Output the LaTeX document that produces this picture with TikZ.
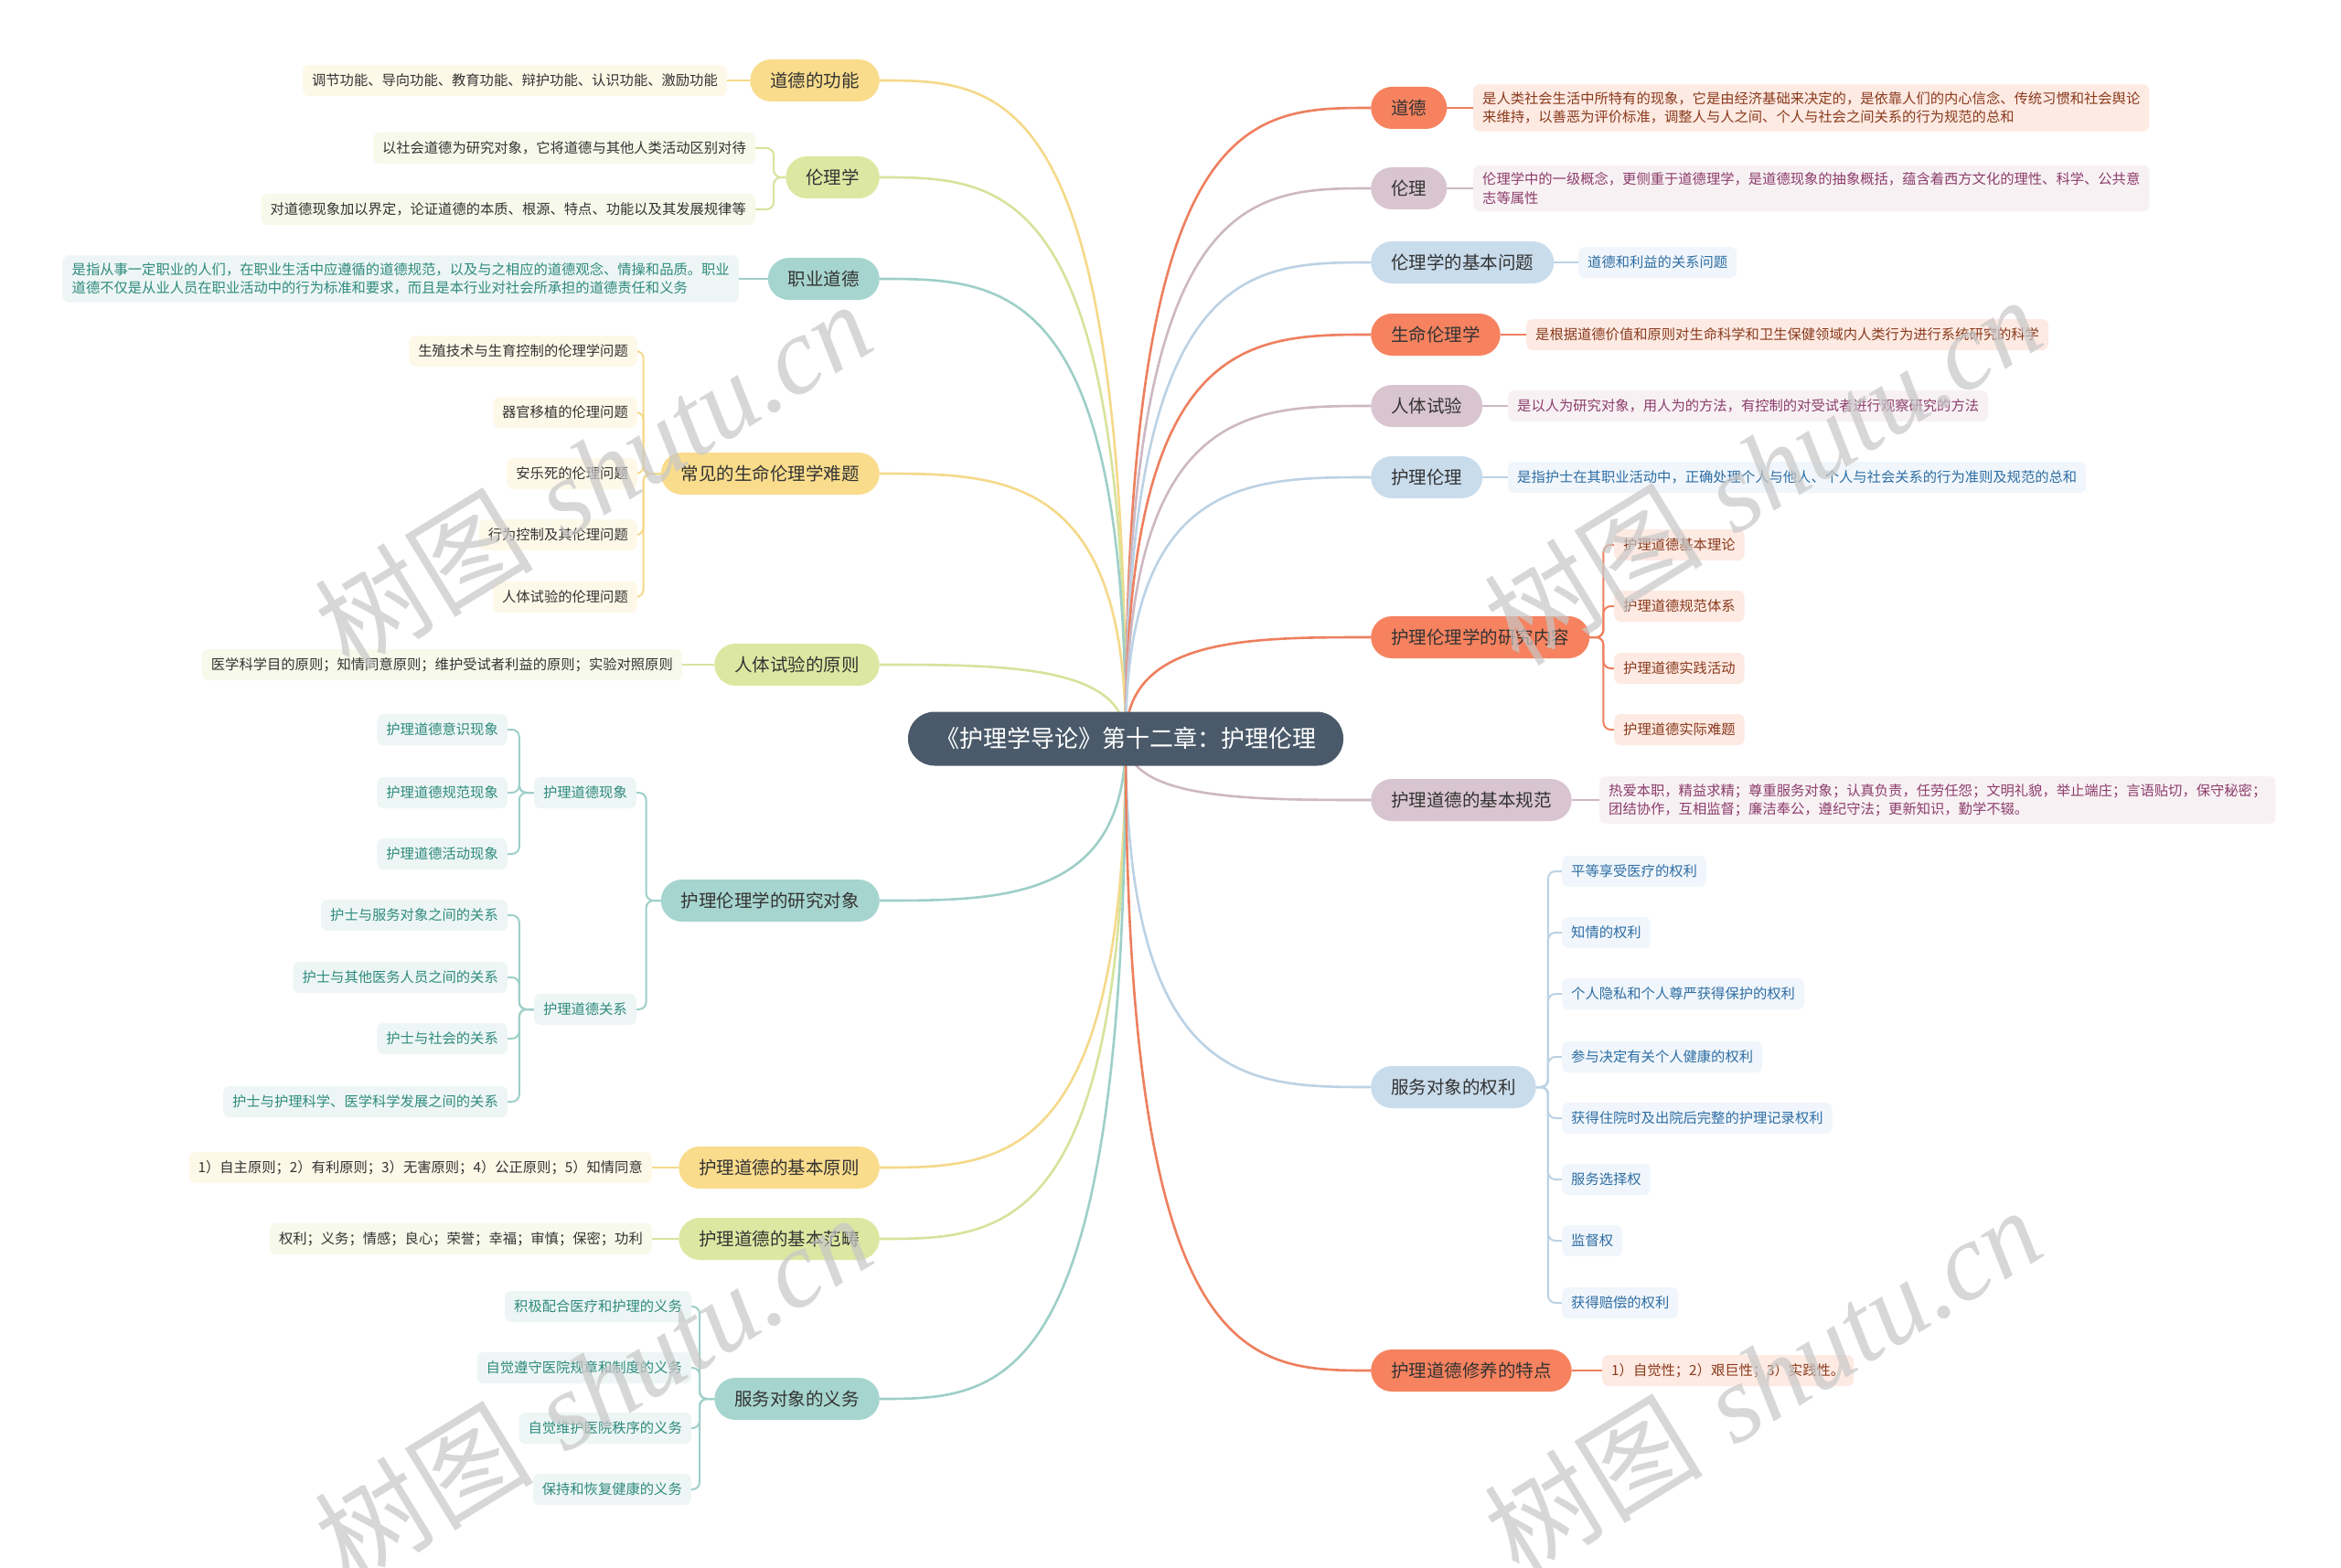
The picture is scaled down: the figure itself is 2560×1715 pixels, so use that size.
\documentclass[tikz,border=0pt]{standalone}
\usepackage{fontspec}
\newfontfamily\cjk{Noto Sans CJK SC}
\newfontfamily\wmserif{Liberation Serif}
\usetikzlibrary{calc}
\pgfdeclarelayer{bg}
\pgfdeclarelayer{canvas}
\pgfsetlayers{canvas,bg,main}
\definecolor{rootc}{HTML}{4A5A6A}
\definecolor{txt}{HTML}{333333}
\definecolor{mYc}{HTML}{F9DC8C}
\definecolor{mGc}{HTML}{DCE8A2}
\definecolor{mTc}{HTML}{A6D5CF}
\definecolor{mSc}{HTML}{F6825F}
\definecolor{mMc}{HTML}{D9C5CF}
\definecolor{mBc}{HTML}{C9DCEC}
\definecolor{lYf}{HTML}{FEF8E8}
\definecolor{lGf}{HTML}{F7F9EA}
\definecolor{lTf}{HTML}{EDF6F5}
\definecolor{lSf}{HTML}{FDEAE3}
\definecolor{lMf}{HTML}{F8F1F4}
\definecolor{lBf}{HTML}{F0F6FB}
\definecolor{lTt}{HTML}{2F8A7D}
\definecolor{lSt}{HTML}{8A3A1C}
\definecolor{lMt}{HTML}{8C3D6B}
\definecolor{lBt}{HTML}{2E6DA4}
\definecolor{cYc}{HTML}{F5D98A}
\definecolor{cGc}{HTML}{D6E39C}
\definecolor{cTc}{HTML}{9ECFC8}
\definecolor{cSc}{HTML}{EE7F5E}
\definecolor{cMc}{HTML}{CDB8C3}
\definecolor{cBc}{HTML}{BCD2E4}
\newcommand\rootlink[3]{\draw[conn,#1] (root.center) .. controls (root.center |- #2.#3) and ($(root.center |- #2.#3)!0.5!(#2.#3)$) .. (#2.#3);}
\newcommand\sublink[4]{\draw[sublk,#1] (#2) -- ++(#4,0) |- (#3);}
\begin{document}
\begin{tikzpicture}[x=1pt,y=-1pt,
  rootbox/.style={fill=rootc,text=white,rounded corners=29pt,minimum height=59pt,inner xsep=30pt,font=\cjk\fontsize{26}{30}\selectfont},
  mainbox/.style={rounded corners=23pt,minimum height=46pt,inner xsep=22pt,text=txt,font=\cjk\fontsize{19.5}{24}\selectfont},
  leaf/.style={rounded corners=7pt,minimum height=34pt,inner xsep=10pt,inner ysep=8pt,align=left,font=\cjk\fontsize{15.3}{20.5}\selectfont},
  mY/.style={mainbox,fill=mYc}, mG/.style={mainbox,fill=mGc}, mT/.style={mainbox,fill=mTc},
  mS/.style={mainbox,fill=mSc}, mM/.style={mainbox,fill=mMc}, mB/.style={mainbox,fill=mBc},
  lY/.style={leaf,fill=lYf,text=txt}, lG/.style={leaf,fill=lGf,text=txt}, lT/.style={leaf,fill=lTf,text=lTt},
  lS/.style={leaf,fill=lSf,text=lSt}, lM/.style={leaf,fill=lMf,text=lMt}, lB/.style={leaf,fill=lBf,text=lBt},
  conn/.style={line width=2.6pt},
  sublk/.style={line width=2pt,rounded corners=8pt},
  wm/.style={text=black!22,opacity=0.7,rotate=31.5,font=\fontsize{120}{130}\selectfont}
]
\begin{pgfonlayer}{canvas}
\fill[white] (0,0) rectangle (2560,1715);
\end{pgfonlayer}
\useasboundingbox (0,0) rectangle (2560,1715);

% root
\node[rootbox] (root) at (1231,808) {《护理学导论》第十二章：护理伦理};

% left main
\node[mY,anchor=east] (L1) at (962,88) {道德的功能};
\node[mG,anchor=east] (L2) at (962,194) {伦理学};
\node[mT,anchor=east] (L3) at (962,305) {职业道德};
\node[mY,anchor=east] (L4) at (962,518) {常见的生命伦理学难题};
\node[mG,anchor=east] (L5) at (962,727) {人体试验的原则};
\node[mT,anchor=east] (L6) at (962,985) {护理伦理学的研究对象};
\node[mY,anchor=east] (L7) at (962,1277) {护理道德的基本原则};
\node[mG,anchor=east] (L8) at (962,1355) {护理道德的基本范畴};
\node[mT,anchor=east] (L9) at (962,1530) {服务对象的义务};

% left leaves
\node[lY,anchor=east] (L1a) at (795,88) {调节功能、导向功能、教育功能、辩护功能、认识功能、激励功能};
\node[lG,anchor=east] (L2a) at (826,162) {以社会道德为研究对象，它将道德与其他人类活动区别对待};
\node[lG,anchor=east] (L2b) at (826,229) {对道德现象加以界定，论证道德的本质、根源、特点、功能以及其发展规律等};
\node[lT,anchor=east] (L3a) at (808,305) {是指从事一定职业的人们，在职业生活中应遵循的道德规范，以及与之相应的道德观念、情操和品质。职业\\道德不仅是从业人员在职业活动中的行为标准和要求，而且是本行业对社会所承担的道德责任和义务};
\node[lY,anchor=east] (L4a) at (697,384) {生殖技术与生育控制的伦理学问题};
\node[lY,anchor=east] (L4b) at (697,451) {器官移植的伦理问题};
\node[lY,anchor=east] (L4c) at (697,518) {安乐死的伦理问题};
\node[lY,anchor=east] (L4d) at (697,585) {行为控制及其伦理问题};
\node[lY,anchor=east] (L4e) at (697,653) {人体试验的伦理问题};
\node[lG,anchor=east] (L5a) at (746,727) {医学科学目的原则；知情同意原则；维护受试者利益的原则；实验对照原则};
\node[lT,anchor=east] (L6a) at (696,867) {护理道德现象};
\node[lT,anchor=east] (L6b) at (696,1104) {护理道德关系};
\node[lT,anchor=east] (L6a1) at (555,798) {护理道德意识现象};
\node[lT,anchor=east] (L6a2) at (555,867) {护理道德规范现象};
\node[lT,anchor=east] (L6a3) at (555,934) {护理道德活动现象};
\node[lT,anchor=east] (L6b1) at (555,1001) {护士与服务对象之间的关系};
\node[lT,anchor=east] (L6b2) at (555,1069) {护士与其他医务人员之间的关系};
\node[lT,anchor=east] (L6b3) at (555,1136) {护士与社会的关系};
\node[lT,anchor=east] (L6b4) at (555,1205) {护士与护理科学、医学科学发展之间的关系};
\node[lY,anchor=east] (L7a) at (713,1277) {1）自主原则；2）有利原则；3）无害原则；4）公正原则；5）知情同意};
\node[lG,anchor=east] (L8a) at (713,1355) {权利；义务；情感；良心；荣誉；幸福；审慎；保密；功利};
\node[lT,anchor=east] (L9a) at (756,1429) {积极配合医疗和护理的义务};
\node[lT,anchor=east] (L9b) at (756,1496) {自觉遵守医院规章和制度的义务};
\node[lT,anchor=east] (L9c) at (756,1562) {自觉维护医院秩序的义务};
\node[lT,anchor=east] (L9d) at (756,1629) {保持和恢复健康的义务};

% right main
\node[mS,anchor=west] (R1) at (1499,118) {道德};
\node[mM,anchor=west] (R2) at (1499,206) {伦理};
\node[mB,anchor=west] (R3) at (1499,287) {伦理学的基本问题};
\node[mS,anchor=west] (R4) at (1499,366) {生命伦理学};
\node[mM,anchor=west] (R5) at (1499,444) {人体试验};
\node[mB,anchor=west] (R6) at (1499,522) {护理伦理};
\node[mS,anchor=west] (R7) at (1499,697) {护理伦理学的研究内容};
\node[mM,anchor=west] (R8) at (1499,875) {护理道德的基本规范};
\node[mB,anchor=west] (R9) at (1499,1189) {服务对象的权利};
\node[mS,anchor=west] (R10) at (1499,1499) {护理道德修养的特点};

% right leaves
\node[lS,anchor=west] (R1a) at (1611,118) {是人类社会生活中所特有的现象，它是由经济基础来决定的，是依靠人们的内心信念、传统习惯和社会舆论\\来维持，以善恶为评价标准，调整人与人之间、个人与社会之间关系的行为规范的总和};
\node[lM,anchor=west] (R2a) at (1611,206) {伦理学中的一级概念，更侧重于道德理学，是道德现象的抽象概括，蕴含着西方文化的理性、科学、公共意\\志等属性};
\node[lB,anchor=west] (R3a) at (1726,287) {道德和利益的关系问题};
\node[lS,anchor=west] (R4a) at (1669,366) {是根据道德价值和原则对生命科学和卫生保健领域内人类行为进行系统研究的科学};
\node[lM,anchor=west] (R5a) at (1649,444) {是以人为研究对象，用人为的方法，有控制的对受试者进行观察研究的方法};
\node[lB,anchor=west] (R6a) at (1649,522) {是指护士在其职业活动中，正确处理个人与他人、个人与社会关系的行为准则及规范的总和};
\node[lS,anchor=west] (R7a) at (1765,596) {护理道德基本理论};
\node[lS,anchor=west] (R7b) at (1765,663) {护理道德规范体系};
\node[lS,anchor=west] (R7c) at (1765,731) {护理道德实践活动};
\node[lS,anchor=west] (R7d) at (1765,798) {护理道德实际难题};
\node[lM,anchor=west] (R8a) at (1749,875) {热爱本职，精益求精；尊重服务对象；认真负责，任劳任怨；文明礼貌，举止端庄；言语贴切，保守秘密；\\团结协作，互相监督；廉洁奉公，遵纪守法；更新知识，勤学不辍。};
\node[lB,anchor=west] (R9a) at (1708,953) {平等享受医疗的权利};
\node[lB,anchor=west] (R9b) at (1708,1020) {知情的权利};
\node[lB,anchor=west] (R9c) at (1708,1087) {个人隐私和个人尊严获得保护的权利};
\node[lB,anchor=west] (R9d) at (1708,1156) {参与决定有关个人健康的权利};
\node[lB,anchor=west] (R9e) at (1708,1223) {获得住院时及出院后完整的护理记录权利};
\node[lB,anchor=west] (R9f) at (1708,1290) {服务选择权};
\node[lB,anchor=west] (R9g) at (1708,1357) {监督权};
\node[lB,anchor=west] (R9h) at (1708,1425) {获得赔偿的权利};
\node[lS,anchor=west] (R10a) at (1752,1499) {1）自觉性；2）艰巨性；3）实践性。};

\begin{pgfonlayer}{bg}
% root links left
\rootlink{cYc}{L1}{east}
\rootlink{cGc}{L2}{east}
\rootlink{cTc}{L3}{east}
\rootlink{cYc}{L4}{east}
\rootlink{cGc}{L5}{east}
\rootlink{cTc}{L6}{east}
\rootlink{cYc}{L7}{east}
\rootlink{cGc}{L8}{east}
\rootlink{cTc}{L9}{east}
% root links right
\rootlink{cSc}{R1}{west}
\rootlink{cMc}{R2}{west}
\rootlink{cBc}{R3}{west}
\rootlink{cSc}{R4}{west}
\rootlink{cMc}{R5}{west}
\rootlink{cBc}{R6}{west}
\rootlink{cSc}{R7}{west}
\rootlink{cMc}{R8}{west}
\rootlink{cBc}{R9}{west}
\rootlink{cSc}{R10}{west}
% left sub links
\draw[sublk,cYc] (L1.west) -- (L1a.east);
\sublink{cGc}{L2.west}{L2a.east}{-13}
\sublink{cGc}{L2.west}{L2b.east}{-13}
\draw[sublk,cTc] (L3.west) -- (L3a.east);
\sublink{cYc}{L4.west}{L4a.east}{-19}
\sublink{cYc}{L4.west}{L4b.east}{-19}
\sublink{cYc}{L4.west}{L4c.east}{-19}
\sublink{cYc}{L4.west}{L4d.east}{-19}
\sublink{cYc}{L4.west}{L4e.east}{-19}
\draw[sublk,cGc] (L5.west) -- (L5a.east);
\sublink{cTc}{L6.west}{L6a.east}{-16}
\sublink{cTc}{L6.west}{L6b.east}{-16}
\sublink{cTc}{L6a.west}{L6a1.east}{-16}
\sublink{cTc}{L6a.west}{L6a2.east}{-16}
\sublink{cTc}{L6a.west}{L6a3.east}{-16}
\sublink{cTc}{L6b.west}{L6b1.east}{-16}
\sublink{cTc}{L6b.west}{L6b2.east}{-16}
\sublink{cTc}{L6b.west}{L6b3.east}{-16}
\sublink{cTc}{L6b.west}{L6b4.east}{-16}
\draw[sublk,cYc] (L7.west) -- (L7a.east);
\draw[sublk,cGc] (L8.west) -- (L8a.east);
\sublink{cTc}{L9.west}{L9a.east}{-16}
\sublink{cTc}{L9.west}{L9b.east}{-16}
\sublink{cTc}{L9.west}{L9c.east}{-16}
\sublink{cTc}{L9.west}{L9d.east}{-16}
% right sub links
\draw[sublk,cSc] (R1.east) -- (R1a.west);
\draw[sublk,cMc] (R2.east) -- (R2a.west);
\draw[sublk,cBc] (R3.east) -- (R3a.west);
\draw[sublk,cSc] (R4.east) -- (R4a.west);
\draw[sublk,cMc] (R5.east) -- (R5a.west);
\draw[sublk,cBc] (R6.east) -- (R6a.west);
\sublink{cSc}{R7.east}{R7a.west}{15}
\sublink{cSc}{R7.east}{R7b.west}{15}
\sublink{cSc}{R7.east}{R7c.west}{15}
\sublink{cSc}{R7.east}{R7d.west}{15}
\draw[sublk,cMc] (R8.east) -- (R8a.west);
\sublink{cBc}{R9.east}{R9a.west}{13}
\sublink{cBc}{R9.east}{R9b.west}{13}
\sublink{cBc}{R9.east}{R9c.west}{13}
\sublink{cBc}{R9.east}{R9d.west}{13}
\sublink{cBc}{R9.east}{R9e.west}{13}
\sublink{cBc}{R9.east}{R9f.west}{13}
\sublink{cBc}{R9.east}{R9g.west}{13}
\sublink{cBc}{R9.east}{R9h.west}{13}
\draw[sublk,cSc] (R10.east) -- (R10a.west);
\end{pgfonlayer}

% watermarks
\node[wm] (wm1) at (648,519) {{\cjk 树图} {\wmserif\itshape shutu.cn}};
\node[wm] (wm2) at (1927,514) {{\cjk 树图} {\wmserif\itshape shutu.cn}};
\node[wm] (wm3) at (648,1518) {{\cjk 树图} {\wmserif\itshape shutu.cn}};
\node[wm] (wm4) at (1927,1510) {{\cjk 树图} {\wmserif\itshape shutu.cn}};
\end{tikzpicture}
\end{document}
